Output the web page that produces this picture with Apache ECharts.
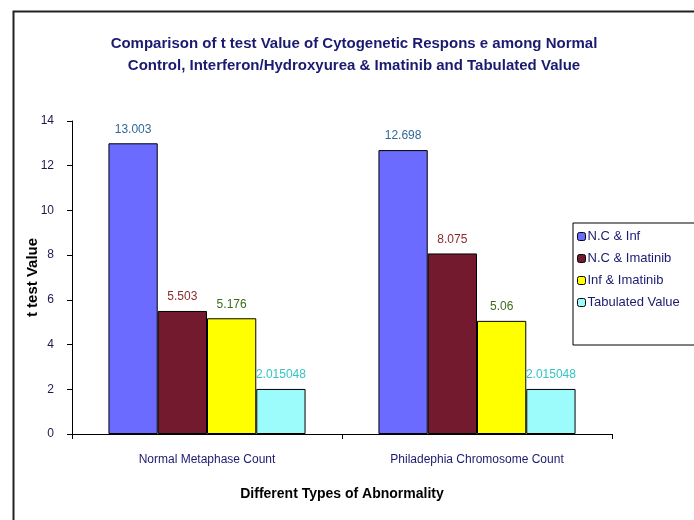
<!DOCTYPE html>
<html>
<head>
<meta charset="utf-8">
<script src="https://cdn.jsdelivr.net/npm/echarts@6/dist/echarts.min.js"></script>
<style>html,body{margin:0;padding:0;background:#fff;}#c{width:694px;height:520px;}</style>
</head>
<body>
<div id="c"></div>
<script>
var categories = ['Normal Metaphase Count', 'Philadephia Chromosome Count'];
var seriesNames = ['N.C & Inf', 'N.C & Imatinib', 'Inf & Imatinib', 'Tabulated Value'];
var ncInf = [13.003, 12.698];
var ncImatinib = [5.503, 8.075];
var infImatinib = [5.176, 5.06];
var tabulated = [2.015048, 2.015048];
var yTicks = [0, 2, 4, 6, 8, 10, 12, 14];

var NARROW = '"Liberation Sans Narrow", "Arial Narrow", "Liberation Sans", sans-serif';
var barColors = ['#6b6bff', '#731a2e', '#ffff00', '#9cfcfc'];
var labelColors = ['#2f6a9a', '#8a2a2a', '#3d6b1a', '#35c4c4'];
var seriesData = [ncInf, ncImatinib, infImatinib, tabulated];

var chart = echarts.init(document.getElementById('c'), null, {renderer: 'canvas'});
chart.setOption({
  backgroundColor: '#fff',
  animation: false,
  title: {
    text: 'Comparison of t test Value of Cytogenetic Respons e among Normal\nControl, Interferon/Hydroxyurea & Imatinib and Tabulated Value',
    left: 349, top: 28, textAlign: 'center',
    textStyle: {fontFamily: NARROW, fontSize: 15, fontWeight: 'bold', color: '#1a1a70', lineHeight: 22}
  },
  legend: {
    orient: 'vertical', left: 573, top: 223,
    data: seriesNames,
    itemWidth: 8, itemHeight: 8, itemGap: 9,
    padding: [7, 40, 36, 4],
    borderColor: '#000', borderWidth: 1, backgroundColor: '#fff',
    textStyle: {fontFamily: NARROW, fontSize: 13, color: '#1a1a70', padding: [0, 0, 0, -3]},
    itemStyle: {borderColor: '#000', borderWidth: 1}
  },
  grid: {left: 72, top: 121, right: 82, bottom: 86},
  xAxis: {
    type: 'category', data: categories,
    name: 'Different Types of Abnormality', nameLocation: 'middle', nameGap: 53,
    nameTextStyle: {fontFamily: NARROW, fontSize: 14, fontWeight: 'bold', color: '#000'},
    axisLine: {lineStyle: {color: '#000', width: 1}},
    axisTick: {show: true, length: 5, inside: false, lineStyle: {color: '#000'}},
    axisLabel: {fontFamily: NARROW, fontSize: 12, color: '#1a1a70', margin: 20}
  },
  yAxis: {
    type: 'value', min: 0, max: 14, interval: 2,
    name: 't test Value', nameLocation: 'middle', nameGap: 32, nameRotate: 90,
    nameMoveOverlap: false,
    nameTextStyle: {fontFamily: NARROW, fontSize: 15, fontWeight: 'bold', color: '#000'},
    axisLine: {show: true, lineStyle: {color: '#000', width: 1}},
    axisTick: {show: true, length: 5, lineStyle: {color: '#000'}},
    splitLine: {show: false},
    axisLabel: {fontFamily: '"Liberation Sans", sans-serif', fontSize: 12, color: '#1a1a50', margin: 18,
      formatter: function (v) { return yTicks.indexOf(v) >= 0 ? String(v) : ''; }}
  },
  series: seriesNames.map(function (n, i) {
    return {
      name: n, type: 'bar', data: seriesData[i],
      barGap: '0%', barCategoryGap: '27%',
      itemStyle: {color: barColors[i], borderColor: '#000', borderWidth: 1},
      label: {show: true, position: 'top', distance: 8, fontFamily: NARROW, fontSize: 12,
        color: labelColors[i], formatter: function (p) { return String(p.value); }}
    };
  }),
  graphic: [{
    type: 'rect', left: 11, top: 9, silent: true, z: 100,
    shape: {x: 0, y: 0, width: 800, height: 700},
    style: {fill: null, stroke: '#222', lineWidth: 2}
  }]
});
</script>
</body>
</html>
